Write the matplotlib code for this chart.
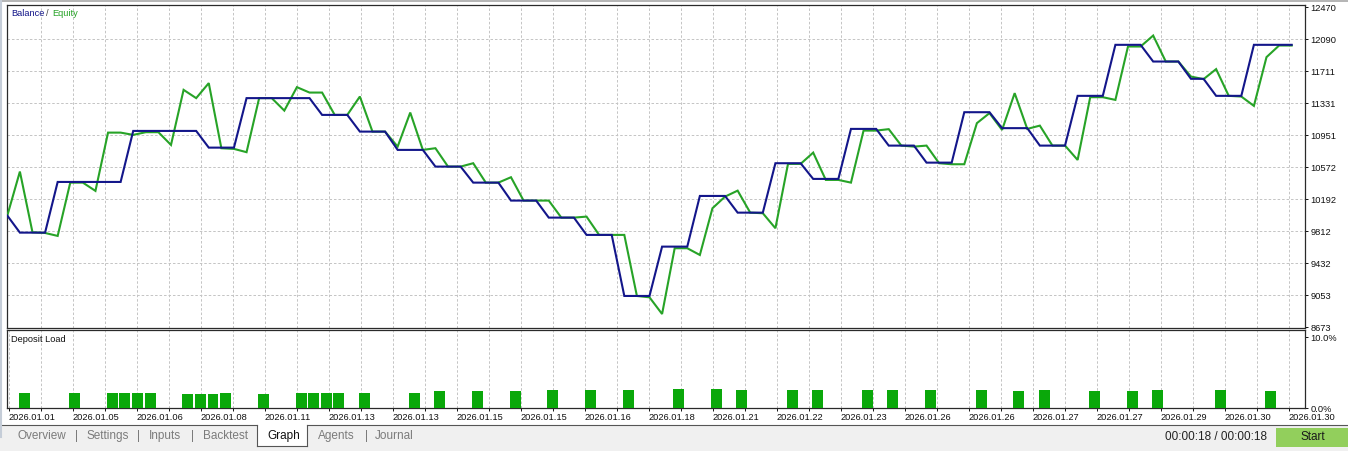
import matplotlib
matplotlib.use("Agg")
import matplotlib.pyplot as plt
import numpy as np
from matplotlib.patches import Rectangle
from matplotlib.lines import Line2D

plt.rcParams['font.family'] = ['Liberation Sans', 'DejaVu Sans']

# ---------------- data ----------------
balance = [10000, 9798, 9798, 9798, 10399, 10399, 10399, 10399, 10399, 10399,
           11004, 11004, 11004, 11004, 11004, 11004, 10806, 10806, 10806, 11393,
           11393, 11393, 11393, 11393, 11393, 11194, 11194, 11194, 10996, 10996,
           10996, 10779, 10779, 10779, 10581, 10581, 10581, 10391, 10391, 10391,
           10178, 10178, 10178, 9976, 9976, 9976, 9771, 9771, 9771, 9047,
           9047, 9047, 9632, 9632, 9632, 10233, 10233, 10233, 10035, 10035,
           10035, 10621, 10621, 10621, 10435, 10435, 10435, 11028, 11028, 11028,
           10830, 10830, 10830, 10628, 10628, 10628, 11226, 11226, 11226, 11037,
           11037, 11037, 10830, 10830, 10830, 11420, 11420, 11420, 12025, 12025,
           12025, 11827, 11827, 11827, 11622, 11622, 11420, 11420, 11420, 12025,
           12025, 12025, 12025]

equity = [10000, 10522, 9802, 9794, 9759, 10391, 10391, 10293, 10984, 10984,
          10957, 10989, 10989, 10838, 11491, 11393, 11571, 10799, 10791, 10752,
          11393, 11393, 11245, 11523, 11459, 11459, 11194, 11194, 11412, 10996,
          10996, 10818, 11222, 10779, 10799, 10581, 10581, 10621, 10391, 10391,
          10455, 10178, 10178, 10178, 9976, 9976, 9988, 9771, 9771, 9771,
          9047, 9031, 8833, 9613, 9613, 9533, 10087, 10225, 10296, 10035,
          10028, 9850, 10613, 10613, 10747, 10423, 10423, 10391, 11008, 11008,
          11025, 10830, 10818, 10830, 10621, 10609, 10609, 11096, 11215, 11016,
          11452, 11028, 11067, 10830, 10830, 10660, 11404, 11404, 11372, 12005,
          12005, 12135, 11827, 11827, 11649, 11618, 11737, 11420, 11412, 11301,
          11879, 12017, 12017]

load_idx = [1, 5, 8, 9, 10, 11, 14, 15, 16, 17, 20, 23, 24, 25, 26, 28, 32, 34,
            37, 40, 43, 46, 49, 53, 56, 58, 62, 64, 68, 70,
            73, 77, 80, 82, 86, 89, 91, 96, 100]
load_pct = [2.17, 2.17, 2.17, 2.17, 2.17, 2.17, 2.03, 2.03, 2.03, 2.17, 2.03, 2.17,
            2.17, 2.17, 2.17, 2.17, 2.17, 2.36,
            2.36, 2.36, 2.5, 2.5, 2.5, 2.64, 2.64, 2.5, 2.5, 2.5, 2.5, 2.5,
            2.5, 2.5, 2.36, 2.5, 2.36, 2.36, 2.5, 2.5, 2.36]

y_ticks = [8673, 9053, 9432, 9812, 10192, 10572, 10951, 11331, 11711, 12090, 12470]
pct_ticks = [0.0, 10.0]
date_labels = ["2026.01.01", "2026.01.05", "2026.01.06", "2026.01.08", "2026.01.11",
               "2026.01.13", "2026.01.13", "2026.01.15", "2026.01.15", "2026.01.16",
               "2026.01.18", "2026.01.21", "2026.01.22", "2026.01.23", "2026.01.26",
               "2026.01.26", "2026.01.27", "2026.01.27", "2026.01.29", "2026.01.30",
               "2026.01.30"]
tabs = ["Overview", "Settings", "Inputs", "Backtest", "Graph", "Agents", "Journal"]
timer_text = "00:00:18 / 00:00:18"

# ---------------- layout ----------------
W, H = 1348, 451
fig = plt.figure(figsize=(W / 100, H / 100), dpi=100)
fig.patch.set_facecolor('white')


def fx(px):
    return px / W


def fy(py):
    return 1 - py / H


BAL_C = '#13168a'
EQ_C = '#27a327'
BAR_C = '#0aa80a'
GRID_C = '#c4c4c4'
SPINE_C = '#2a2a2a'
FS = 6.7

x = np.arange(len(balance))
px_step = 12.592            # pixels per deal
x0_px = 7.3                 # pixel of first deal
left_px, right_px = 7, 1305
xlim = ((left_px - x0_px) / px_step, (right_px - x0_px) / px_step)
grid_step = 32 / px_step
grid_first = (8.7 - x0_px) / px_step
grid_pos = grid_first + grid_step * np.arange(41)
label_pos = grid_pos[::2]

# top: balance / equity
ax = fig.add_axes([fx(left_px), fy(328), fx(right_px) - fx(left_px), fy(5) - fy(328)])
ax.plot(x, equity, color=EQ_C, lw=1.5, solid_joinstyle='miter', zorder=3)
ax.plot(x, balance, color=BAL_C, lw=1.5, solid_joinstyle='miter', zorder=4)
ax.set_xlim(*xlim)
vpp = (12470 - 8673) / 320.0
ax.set_ylim(8673 - 0.5 * vpp, 12470 + 2.3 * vpp)
ax.set_yticks(y_ticks)
ax.set_yticklabels([str(v) for v in y_ticks])
ax.yaxis.tick_right()
ax.tick_params(axis='y', length=2.5, width=0.7, pad=1.5, labelsize=FS, colors='#111111')
ax.set_xticks(grid_pos[1:])
ax.tick_params(axis='x', length=0, labelbottom=False)
ax.grid(axis='x', color=GRID_C, lw=0.7, ls=(0, (2.6, 2.0)))
for v in y_ticks[1:-1]:
    ax.axhline(v, color=GRID_C, lw=0.7, ls=(0, (2.6, 2.0)), zorder=1)
for s in ax.spines.values():
    s.set_color(SPINE_C)
    s.set_linewidth(0.9)

# bottom: deposit load
axd = fig.add_axes([fx(left_px), fy(408), fx(right_px) - fx(left_px), fy(330) - fy(408)])
axd.bar(np.array(load_idx) - 0.1, load_pct, width=0.87, align='edge', color=BAR_C,
        edgecolor='none', zorder=3)
axd.set_xlim(*xlim)
ppp = (407.7 - 337) / 10.0
axd.set_ylim(0, 10 + (337 - 330) / ppp)
axd.set_yticks(pct_ticks)
axd.set_yticklabels([f"{v:.1f}%" for v in pct_ticks])
axd.yaxis.tick_right()
axd.tick_params(axis='y', length=2.5, width=0.7, pad=1.5, labelsize=FS, colors='#111111')
axd.set_xticks(label_pos)
axd.set_xticklabels(date_labels)
for lbl in axd.get_xticklabels():
    lbl.set_horizontalalignment('left')
axd.set_xticks(grid_pos, minor=True)
axd.tick_params(axis='x', which='both', length=2, width=0.7, pad=1.6, labelsize=FS,
                colors='#111111')
axd.grid(axis='x', which='both', color=GRID_C, lw=0.7, ls=(0, (2.6, 2.0)))
for s in axd.spines.values():
    s.set_color(SPINE_C)
    s.set_linewidth(0.9)

# in-chart titles
fig.text(fx(11), fy(14), "Balance", color=BAL_C, fontsize=FS, ha='left', va='center')
fig.text(fx(45.5), fy(14), "/", color='#444444', fontsize=FS, ha='left', va='center')
fig.text(fx(52.5), fy(14), "Equity", color=EQ_C, fontsize=FS, ha='left', va='center')
fig.text(fx(11), fy(339), "Deposit Load", color='#111111', fontsize=FS, ha='left', va='center')

# ---------------- tab bar ----------------
fig.patches.append(Rectangle((0, 0), 1, fy(424.5), transform=fig.transFigure,
                             facecolor='#f0f0f0', edgecolor='none', zorder=0))
fig.patches.append(Rectangle((fx(257), fy(446)), fx(307) - fx(257), fy(425) - fy(446),
                             transform=fig.transFigure, facecolor='white',
                             edgecolor='none', zorder=1))
line_c = '#555555'
for (xa, xb, ya, yb) in [(0, 257, 424.5, 424.5), (307, 1348, 424.5, 424.5),
                         (257, 257, 424.5, 446), (307, 307, 424.5, 446),
                         (257, 307, 446, 446)]:
    fig.lines.append(Line2D([fx(xa), fx(xb)], [fy(ya), fy(yb)], transform=fig.transFigure,
                            color=line_c, lw=0.8))
tab_x = [18, 87, 149, 203, 267, 318, 375]
for name, tx in zip(tabs, tab_x):
    fig.text(fx(tx), fy(436), name, fontsize=8.5, ha='left', va='center',
             color='#111111' if name == "Graph" else '#7b7b7b')
for sx in [77, 139, 193, 366]:
    fig.text(fx(sx), fy(436), "|", fontsize=8.5, ha='center', va='center', color='#7b7b7b')

fig.text(fx(1267), fy(437), timer_text, fontsize=8.5, ha='right', va='center', color='#222222')
fig.patches.append(Rectangle((fx(1276), fy(447)), 1 - fx(1276), fy(428) - fy(447),
                             transform=fig.transFigure, facecolor='#92cf5c',
                             edgecolor='none', zorder=1))
fig.text(fx(1313), fy(437.5), "Start", fontsize=8.5, ha='center', va='center', color='#1a1a1a')

# window edges
fig.lines.append(Line2D([0, 1], [fy(0.5), fy(0.5)], transform=fig.transFigure,
                        color='#a8a8a8', lw=1.2))
fig.lines.append(Line2D([fx(1), fx(1)], [fy(0), fy(437)], transform=fig.transFigure,
                        color='#c5cdd8', lw=1.5))

fig.savefig("out.png", dpi=100, facecolor=fig.get_facecolor())
